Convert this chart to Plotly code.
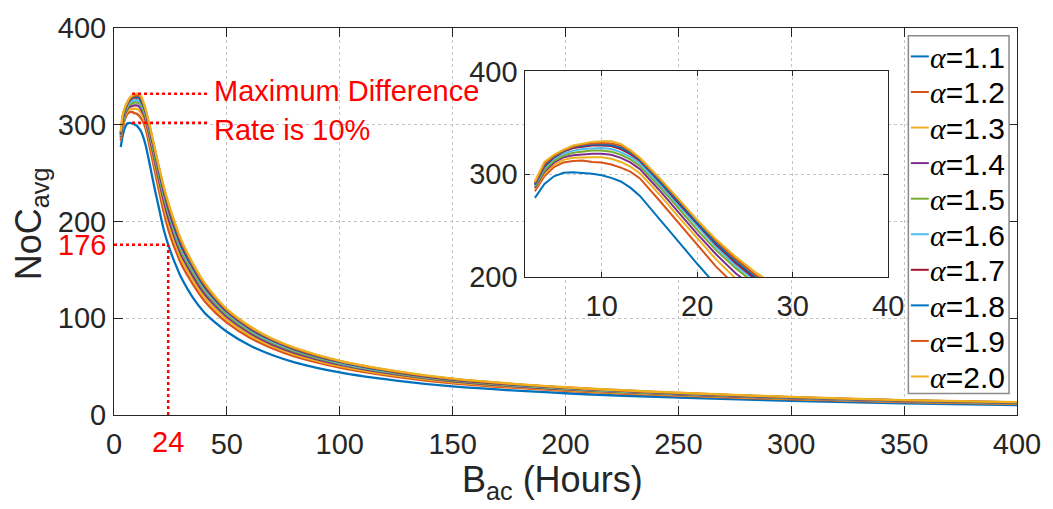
import plotly.graph_objects as go

# ---- data -------------------------------------------------------------
hours = [3, 4, 5, 6, 7, 8, 9, 10, 11, 12, 13, 14,
         16, 18, 20, 22, 24, 26, 28, 30,
         35, 40, 45, 50, 60, 70, 80, 100, 125, 150, 200, 250, 300, 350, 400]

alpha_labels = ["1.1", "1.2", "1.3", "1.4", "1.5", "1.6", "1.7", "1.8", "1.9", "2.0"]

noc_a11 = [277, 290.5, 298, 301.5, 302, 301.5, 300.5, 299, 296.5, 293, 287, 279,
           257, 234, 213, 192, 176, 163, 151.5, 141,
           121, 106, 95.3, 86, 72, 62, 54.5, 44, 35.5, 29.5, 22.5, 18, 14.6, 12.0, 10.3]
noc_a12 = [283.5, 298, 307, 311.5, 313, 313.3, 312, 311.5, 309.5, 306.5, 302.5, 296,
           275, 253, 231, 210, 192, 178, 166, 155,
           135, 118, 105.5, 95.5, 80, 69, 60.5, 49, 39.5, 32.8, 25, 20, 16.2, 13.3, 11.4]
noc_a13 = [286, 300.5, 309.5, 314, 316, 316.5, 316.5, 316.5, 315, 312, 307.5, 301,
           281, 259, 237.5, 217, 199, 184.5, 171.5, 160,
           139.5, 122, 109, 98.5, 82.5, 71, 62.5, 50.5, 40.6, 33.8, 25.8, 20.6, 16.7, 13.7, 11.8]
noc_a14 = [287, 302.5, 311.5, 316.5, 318.5, 319.5, 320, 320, 319, 316, 311.5, 305,
           285, 263.5, 242, 222, 204, 189.5, 176, 164.5,
           143.5, 125.5, 112.5, 101.5, 85, 73, 64.3, 52, 41.9, 34.8, 26.5, 21.2, 17.2, 14.2, 12.2]
noc_a15 = [288, 304, 313, 318, 321, 322, 323, 323, 322, 319, 314.5, 308,
           288.5, 267.5, 246, 226, 209, 194, 180, 168,
           147, 128.5, 115, 103.5, 86.8, 74.7, 65.7, 53, 42.8, 35.5, 27.1, 21.7, 17.6, 14.5, 12.4]
noc_a16 = [289, 306, 315, 320, 323, 324.5, 325, 325.5, 324.5, 321.5, 317, 310.5,
           291, 270, 249, 229, 211.5, 196.5, 183, 171,
           150, 131, 117, 105.5, 88.3, 76, 66.9, 54, 43.6, 36.2, 27.6, 22.1, 17.9, 14.7, 12.6]
noc_a17 = [290, 307.5, 316.5, 322, 325.5, 327, 328, 328, 327.5, 324.5, 319.5, 313,
           293.5, 272.5, 251.5, 231.5, 214, 199, 186, 174,
           152, 133, 119, 107, 89.6, 77.2, 67.9, 54.8, 44.2, 36.7, 28, 22.4, 18.2, 14.9, 12.8]
noc_a18 = [290.5, 308.5, 317, 322.5, 326.5, 328, 329, 329, 328.5, 326, 321, 314,
           294.5, 274, 253, 233, 216, 201, 188, 176,
           153.5, 134.5, 120, 108, 90.4, 77.8, 68.4, 55.2, 44.6, 37, 28.2, 22.6, 18.3, 15.1, 12.9]
noc_a19 = [291.5, 310, 318, 323, 327, 329, 330, 330.5, 330, 328, 322.5, 315,
           296, 275.5, 254.5, 235, 218, 203, 190, 178,
           155, 135.5, 121, 108.7, 91, 78.4, 68.9, 55.6, 44.9, 37.3, 28.4, 22.8, 18.5, 15.2, 13.0]
noc_a20 = [293, 312, 319, 324, 328, 330, 331.5, 332, 332, 329.5, 323.5, 316,
           297, 276.5, 255.5, 236.5, 220, 205.5, 192, 180,
           156.5, 137, 122, 109.5, 92, 79, 69.5, 56, 45.3, 37.6, 28.7, 23, 18.7, 15.4, 13.3]

series = [noc_a11, noc_a12, noc_a13, noc_a14, noc_a15,
          noc_a16, noc_a17, noc_a18, noc_a19, noc_a20]

line_colors = ["#0072BD", "#D95319", "#EDB120", "#7E2F8E", "#77AC30",
               "#4DBEEE", "#A2142F", "#0072BD", "#D95319", "#EDB120"]

main_xticks = [0, 50, 100, 150, 200, 250, 300, 350, 400]
main_yticks = [0, 100, 200, 300, 400]
inset_xticks = [10, 20, 30, 40]
inset_yticks = [200, 300, 400]
main_xrange = [0, 400]
main_yrange = [0, 400]
inset_xrange = [2, 40]
inset_yrange = [200, 400]

x_title = "B<sub>ac</sub> (Hours)"
y_title = "NoC<sub>avg</sub>"

marked_hour = 24          # highlighted B_ac value
marked_noc = 176          # NoC_avg of alpha=1.1 at that B_ac

# ---- figure geometry (pixels) ----------------------------------------
W, H = 1053, 509
L, R, T, B = 114, 33, 20, 94
PW, PH = W - L - R, H - T - B


def px(xp):
    return (xp - L) / PW


def py(yp):
    return (H - B - yp) / PH


FONT = "Liberation Sans, Arial, Helvetica, sans-serif"
DARK = "#262626"
TICK_SIZE = 29
tick_font = dict(family=FONT, size=TICK_SIZE, color=DARK)
title_font = dict(family=FONT, size=36, color=DARK)

fig = go.Figure()

# main curves
for lab, ys, col in zip(alpha_labels, series, line_colors):
    fig.add_trace(go.Scatter(
        x=hours, y=ys, mode="lines", name="α=" + lab,
        line=dict(color=col, width=2.3, shape="spline", smoothing=1.0),
        xaxis="x", yaxis="y", showlegend=False, hoverinfo="skip"))

# zoomed-in curves
for lab, ys, col in zip(alpha_labels, series, line_colors):
    fig.add_trace(go.Scatter(
        x=hours, y=ys, mode="lines", name="α=" + lab,
        line=dict(color=col, width=2),
        xaxis="x2", yaxis="y2", showlegend=False, hoverinfo="skip"))

axis_common = dict(
    ticks="inside", tickcolor=DARK, mirror="allticks", showline=True,
    linecolor=DARK, linewidth=1, showgrid=True, gridcolor="#c4c4c4",
    griddash="dot", gridwidth=1, zeroline=False, tickfont=tick_font,
)

fig.update_layout(
    width=W, height=H, margin=dict(l=L, r=R, t=T, b=B),
    paper_bgcolor="white", plot_bgcolor="white",
    xaxis=dict(axis_common, domain=[0, 1], range=main_xrange,
               tickvals=main_xticks, ticklen=9, ticklabelstandoff=3),
    yaxis=dict(axis_common, domain=[0, 1], range=main_yrange,
               tickvals=main_yticks, ticklen=9, ticklabelstandoff=1),
    xaxis2=dict(axis_common, domain=[px(526.7), px(890.7)], anchor="y2",
                range=inset_xrange, tickvals=inset_xticks, ticklen=5,
                ticklabelstandoff=3),
    yaxis2=dict(axis_common, domain=[py(274.3), py(64.3)], anchor="x2",
                range=inset_yrange, tickvals=inset_yticks, ticklen=5,
                ticklabelstandoff=1),
)

shapes = []
annotations = []

# axis titles
annotations.append(dict(xref="paper", yref="paper", x=px(554), y=py(483),
                        text=x_title, showarrow=False, xanchor="center",
                        yanchor="middle", font=title_font))
annotations.append(dict(xref="paper", yref="paper", x=px(31), y=py(220),
                        text=y_title, showarrow=False, xanchor="center",
                        yanchor="middle", textangle=-90, font=title_font))

# opaque background of the zoomed-in axes
shapes.append(dict(type="rect", xref="x2", yref="y2",
                   x0=inset_xrange[0], x1=inset_xrange[1],
                   y0=inset_yrange[0], y1=inset_yrange[1],
                   fillcolor="white", line=dict(width=0), layer="below"))

# peak-difference guides
peak_low = max(noc_a11)
peak_high = max(noc_a20)
peak_x_low = hours[noc_a11.index(peak_low)]
rate = round((peak_high / peak_low - 1) * 100)
red_dot = dict(color="#FF0000", width=2.5, dash="dot")
guide_end = 42
shapes.append(dict(type="line", xref="x", yref="y", x0=peak_x_low + 1,
                   x1=guide_end, y0=peak_high, y1=peak_high, line=red_dot))
shapes.append(dict(type="line", xref="x", yref="y", x0=peak_x_low + 1,
                   x1=guide_end, y0=peak_low, y1=peak_low, line=red_dot))
red_font = dict(family=FONT, size=29, color="#FF0000")
annotations.append(dict(xref="x", yref="y", x=guide_end + 1.2, y=peak_high + 3,
                        text="Maximum Difference", showarrow=False,
                        xanchor="left", yanchor="middle", font=red_font))
annotations.append(dict(xref="x", yref="y", x=guide_end + 1.2, y=peak_low - 7,
                        text=f"Rate is {rate}%", showarrow=False,
                        xanchor="left", yanchor="middle", font=red_font))

# B_ac = 24 marker
shapes.append(dict(type="line", xref="x", yref="y", x0=0, x1=marked_hour,
                   y0=marked_noc, y1=marked_noc, line=red_dot))
shapes.append(dict(type="line", xref="x", yref="y", x0=marked_hour,
                   x1=marked_hour, y0=0, y1=marked_noc, line=red_dot))
annotations.append(dict(xref="paper", yref="y", x=0, y=marked_noc,
                        text=str(marked_noc), showarrow=False, xanchor="right",
                        yanchor="middle", xshift=-6,
                        font=dict(family=FONT, size=TICK_SIZE, color="#FF0000")))
annotations.append(dict(xref="x", yref="paper", x=marked_hour, y=0,
                        text=str(marked_hour), showarrow=False, xanchor="center",
                        yanchor="top", yshift=-9,
                        font=dict(family=FONT, size=TICK_SIZE, color="#FF0000")))

# legend box
leg_left, leg_right, leg_top, leg_bottom = 911, 1012, 28, 393
shapes.append(dict(type="rect", xref="paper", yref="paper",
                   x0=px(leg_left), x1=px(leg_right),
                   y0=py(leg_bottom), y1=py(leg_top),
                   fillcolor="white", line=dict(color="#8a8a8a", width=1.5),
                   layer="above"))
row0, row_step = 50, 36.3
for i, (lab, col) in enumerate(zip(alpha_labels, line_colors)):
    yc = row0 + i * row_step
    shapes.append(dict(type="line", xref="paper", yref="paper",
                       x0=px(913.5), x1=px(931.5), y0=py(yc - 1), y1=py(yc - 1),
                       line=dict(color=col, width=2), layer="above"))
    annotations.append(dict(
        xref="paper", yref="paper", x=px(931), y=py(yc),
        text="<span style=\"font-family:'Liberation Serif'\"><i>α</i></span>=" + lab,
        showarrow=False, xanchor="left", yanchor="middle",
        font=dict(family=FONT, size=30, color="black")))

fig.update_layout(shapes=shapes, annotations=annotations)
fig.write_html("out.html")
